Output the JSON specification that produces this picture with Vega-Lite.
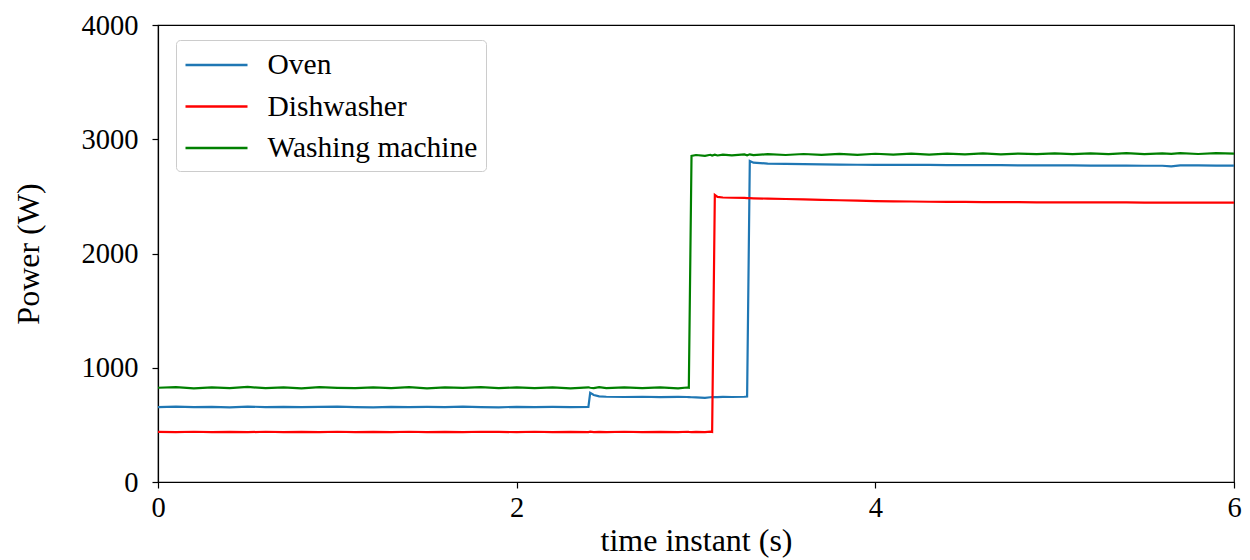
{
  "$schema": "https://vega.github.io/schema/vega-lite/v6.json",
  "width": 1076,
  "height": 457,
  "autosize": {"type": "none"},
  "padding": {"left": 158, "top": 25, "right": 16, "bottom": 78},
  "background": "white",
  "config": {
    "font": "Liberation Serif",
    "view": {"stroke": "black", "strokeWidth": 1.2},
    "axis": {
      "grid": false,
      "domainColor": "black",
      "domainWidth": 1.2,
      "tickColor": "black",
      "tickWidth": 1.2,
      "tickSize": 6,
      "labelColor": "black",
      "titleColor": "black",
      "labelFont": "Liberation Serif",
      "titleFont": "Liberation Serif",
      "labelFontSize": 28.5,
      "titleFontSize": 32,
      "titleFontWeight": "normal",
      "labelFlush": false,
      "format": "d"
    },
    "legend": {
      "labelFont": "Liberation Serif",
      "labelFontSize": 29.5,
      "labelColor": "black",
      "labelLimit": 500
    }
  },
  "data": {
    "values": [
      {"t": 0, "Oven": 656, "Dishwasher": 438, "Washing machine": 825},
      {"t": 0.1, "Oven": 659, "Dishwasher": 436, "Washing machine": 831},
      {"t": 0.2, "Oven": 655, "Dishwasher": 440, "Washing machine": 820},
      {"t": 0.3, "Oven": 657, "Dishwasher": 437, "Washing machine": 829},
      {"t": 0.4, "Oven": 654, "Dishwasher": 439, "Washing machine": 822},
      {"t": 0.5, "Oven": 660, "Dishwasher": 436, "Washing machine": 832},
      {"t": 0.6, "Oven": 656, "Dishwasher": 440, "Washing machine": 821},
      {"t": 0.7, "Oven": 658, "Dishwasher": 437, "Washing machine": 828},
      {"t": 0.8, "Oven": 655, "Dishwasher": 439, "Washing machine": 819},
      {"t": 0.9, "Oven": 657, "Dishwasher": 436, "Washing machine": 830},
      {"t": 1.0, "Oven": 659, "Dishwasher": 440, "Washing machine": 824},
      {"t": 1.1, "Oven": 656, "Dishwasher": 437, "Washing machine": 821},
      {"t": 1.2, "Oven": 654, "Dishwasher": 439, "Washing machine": 829},
      {"t": 1.3, "Oven": 658, "Dishwasher": 436, "Washing machine": 822},
      {"t": 1.4, "Oven": 656, "Dishwasher": 440, "Washing machine": 831},
      {"t": 1.5, "Oven": 657, "Dishwasher": 437, "Washing machine": 820},
      {"t": 1.6, "Oven": 655, "Dishwasher": 439, "Washing machine": 828},
      {"t": 1.7, "Oven": 659, "Dishwasher": 436, "Washing machine": 823},
      {"t": 1.8, "Oven": 656, "Dishwasher": 440, "Washing machine": 830},
      {"t": 1.9, "Oven": 654, "Dishwasher": 438, "Washing machine": 821},
      {"t": 2.0, "Oven": 658, "Dishwasher": 437, "Washing machine": 829},
      {"t": 2.1, "Oven": 656, "Dishwasher": 440, "Washing machine": 822},
      {"t": 2.2, "Oven": 657, "Dishwasher": 436, "Washing machine": 828},
      {"t": 2.3, "Oven": 655, "Dishwasher": 439, "Washing machine": 820},
      {"t": 2.4, "Oven": 658, "Dishwasher": 437, "Washing machine": 829},
      {"t": 2.41, "Oven": 780, "Dishwasher": 440, "Washing machine": 825},
      {"t": 2.43, "Oven": 762, "Dishwasher": 437, "Washing machine": 822},
      {"t": 2.46, "Oven": 749, "Dishwasher": 439, "Washing machine": 830},
      {"t": 2.5, "Oven": 746, "Dishwasher": 436, "Washing machine": 821},
      {"t": 2.6, "Oven": 744, "Dishwasher": 440, "Washing machine": 828},
      {"t": 2.7, "Oven": 746, "Dishwasher": 437, "Washing machine": 822},
      {"t": 2.8, "Oven": 743, "Dishwasher": 439, "Washing machine": 829},
      {"t": 2.9, "Oven": 745, "Dishwasher": 436, "Washing machine": 820},
      {"t": 2.95, "Oven": 744, "Dishwasher": 440, "Washing machine": 827},
      {"t": 2.96, "Oven": 743, "Dishwasher": 438, "Washing machine": 825},
      {"t": 2.975, "Oven": 742, "Dishwasher": 437, "Washing machine": 2855},
      {"t": 3.0, "Oven": 741, "Dishwasher": 439, "Washing machine": 2862},
      {"t": 3.05, "Oven": 736, "Dishwasher": 436, "Washing machine": 2855},
      {"t": 3.08, "Oven": 742, "Dishwasher": 440, "Washing machine": 2864},
      {"t": 3.09, "Oven": 743, "Dishwasher": 438, "Washing machine": 2857},
      {"t": 3.105, "Oven": 744, "Dishwasher": 2512, "Washing machine": 2865},
      {"t": 3.12, "Oven": 743, "Dishwasher": 2495, "Washing machine": 2858},
      {"t": 3.15, "Oven": 745, "Dishwasher": 2490, "Washing machine": 2866},
      {"t": 3.2, "Oven": 744, "Dishwasher": 2488, "Washing machine": 2859},
      {"t": 3.27, "Oven": 746, "Dishwasher": 2486, "Washing machine": 2867},
      {"t": 3.285, "Oven": 748, "Dishwasher": 2485, "Washing machine": 2860},
      {"t": 3.3, "Oven": 2810, "Dishwasher": 2484, "Washing machine": 2868},
      {"t": 3.32, "Oven": 2795, "Dishwasher": 2483, "Washing machine": 2861},
      {"t": 3.4, "Oven": 2787, "Dishwasher": 2480, "Washing machine": 2869},
      {"t": 3.5, "Oven": 2784, "Dishwasher": 2477, "Washing machine": 2862},
      {"t": 3.6, "Oven": 2782, "Dishwasher": 2474, "Washing machine": 2871},
      {"t": 3.7, "Oven": 2780, "Dishwasher": 2470, "Washing machine": 2863},
      {"t": 3.8, "Oven": 2778, "Dishwasher": 2466, "Washing machine": 2872},
      {"t": 3.9, "Oven": 2777, "Dishwasher": 2462, "Washing machine": 2864},
      {"t": 4.0, "Oven": 2776, "Dishwasher": 2458, "Washing machine": 2873},
      {"t": 4.1, "Oven": 2776, "Dishwasher": 2456, "Washing machine": 2866},
      {"t": 4.2, "Oven": 2775, "Dishwasher": 2455, "Washing machine": 2875},
      {"t": 4.3, "Oven": 2775, "Dishwasher": 2453, "Washing machine": 2866},
      {"t": 4.4, "Oven": 2774, "Dishwasher": 2452, "Washing machine": 2874},
      {"t": 4.5, "Oven": 2774, "Dishwasher": 2451, "Washing machine": 2867},
      {"t": 4.6, "Oven": 2773, "Dishwasher": 2450, "Washing machine": 2876},
      {"t": 4.7, "Oven": 2773, "Dishwasher": 2450, "Washing machine": 2868},
      {"t": 4.8, "Oven": 2772, "Dishwasher": 2449, "Washing machine": 2875},
      {"t": 4.9, "Oven": 2772, "Dishwasher": 2448, "Washing machine": 2869},
      {"t": 5.0, "Oven": 2771, "Dishwasher": 2448, "Washing machine": 2877},
      {"t": 5.1, "Oven": 2771, "Dishwasher": 2447, "Washing machine": 2869},
      {"t": 5.2, "Oven": 2770, "Dishwasher": 2447, "Washing machine": 2876},
      {"t": 5.3, "Oven": 2770, "Dishwasher": 2447, "Washing machine": 2870},
      {"t": 5.4, "Oven": 2769, "Dishwasher": 2447, "Washing machine": 2878},
      {"t": 5.5, "Oven": 2768, "Dishwasher": 2446, "Washing machine": 2870},
      {"t": 5.6, "Oven": 2768, "Dishwasher": 2446, "Washing machine": 2877},
      {"t": 5.65, "Oven": 2762, "Dishwasher": 2446, "Washing machine": 2872},
      {"t": 5.7, "Oven": 2771, "Dishwasher": 2446, "Washing machine": 2879},
      {"t": 5.8, "Oven": 2771, "Dishwasher": 2445, "Washing machine": 2871},
      {"t": 5.9, "Oven": 2770, "Dishwasher": 2446, "Washing machine": 2878},
      {"t": 6.0, "Oven": 2770, "Dishwasher": 2446, "Washing machine": 2875}
    ]
  },
  "transform": [
    {"fold": ["Oven", "Dishwasher", "Washing machine"], "as": ["series", "power"]}
  ],
  "mark": {"type": "line", "strokeWidth": 2.2, "clip": true},
  "encoding": {
    "x": {
      "field": "t",
      "type": "quantitative",
      "scale": {"domain": [0, 6], "nice": false, "zero": false},
      "axis": {"values": [0, 2, 4, 6], "title": "time instant (s)", "labelPadding": 5, "titlePadding": 4}
    },
    "y": {
      "field": "power",
      "type": "quantitative",
      "scale": {"domain": [0, 4000], "nice": false},
      "axis": {"values": [0, 1000, 2000, 3000, 4000], "title": "Power (W)", "labelPadding": 14, "titlePadding": 36}
    },
    "color": {
      "field": "series",
      "type": "nominal",
      "sort": ["Oven", "Dishwasher", "Washing machine"],
      "scale": {"domain": ["Oven", "Dishwasher", "Washing machine"], "range": ["#1f77b4", "#ff0000", "#008000"]},
      "legend": {
        "title": null,
        "orient": "none",
        "legendX": 18,
        "legendY": 15,
        "symbolType": "M-2,0L2,0",
        "symbolSize": 961,
        "symbolOffset": 15.5,
        "symbolStrokeWidth": 2.5,
        "labelOffset": 34,
        "rowPadding": 9.5,
        "padding": 8,
        "fillColor": "white",
        "strokeColor": "#cccccc",
        "cornerRadius": 4
      }
    }
  }
}
